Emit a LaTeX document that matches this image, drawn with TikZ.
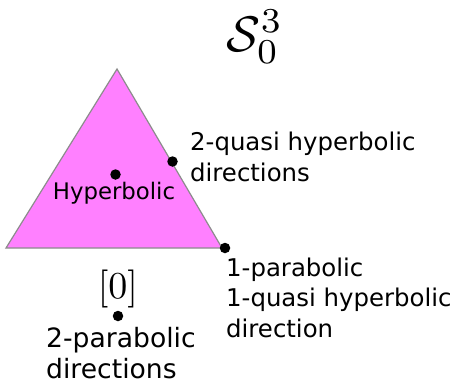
\documentclass[tikz,border=0pt]{standalone}
\usepackage{graphicx}
\usepackage[no-math]{fontspec}
\setmainfont{DejaVu Sans}
\definecolor{trifill}{HTML}{FF80FF}
\definecolor{triline}{HTML}{8C8C8C}
\tikzset{
  dot/.style={circle, fill=black, inner sep=0pt, minimum size=10.5pt},
  lbl/.style={anchor=base west, inner sep=0pt, align=left, font=\fontsize{24.4}{30.5}\selectfont},
  mathlbl/.style={anchor=base, inner sep=0pt},
}
\begin{document}
\begin{tikzpicture}[x=1pt, y=-1pt]
\useasboundingbox (0,0) rectangle (457,383);
\coordinate (top) at (117,69);
\coordinate (bl) at (6,248);
\coordinate (br) at (222,248);
\filldraw[fill=trifill, draw=triline, line width=1.2pt, line join=miter] (top) -- (br) -- (bl) -- cycle;
\node[mathlbl] (title) at (255,51) {\scalebox{5}{$\mathcal{S}_0^3$}};
\node[dot] (dh) at (115.5,174.5) {};
\node[dot] (dq) at (172.5,161.5) {};
\node[dot] (dp) at (225,248) {};
\node[dot] (dz) at (118,316) {};
\node[anchor=base, inner sep=0pt, font=\fontsize{22.8}{24}\selectfont] (hyp) at (114,199) {Hyperbolic};
\node[lbl] (quasi) at (190,181) {2-quasi hyperbolic\\directions};
\node[lbl] (onep) at (226,337) {1-parabolic\\1-quasi hyperbolic\\direction};
\node[mathlbl] (zero) at (118,298) {\scalebox{3.8}{$[0]$}};
\node[lbl, font=\fontsize{26.6}{31}\selectfont] (twop) at (46,378) {2-parabolic\\directions};
\end{tikzpicture}
\end{document}
